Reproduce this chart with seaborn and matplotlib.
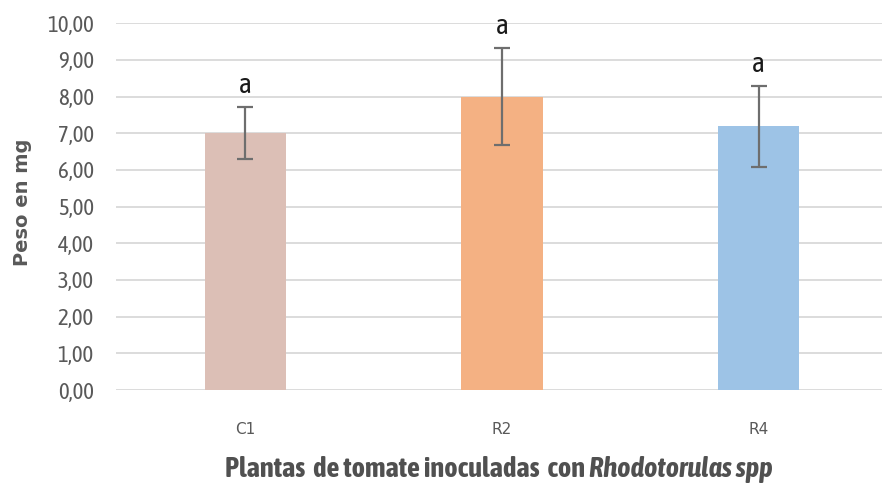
import matplotlib
matplotlib.use("Agg")
import matplotlib.pyplot as plt
from matplotlib import font_manager
import seaborn as sns
import pandas as pd

# Mean fresh weight (mg) per treatment, with standard deviation
categories = ["C1", "R2", "R4"]
weights = [7.00, 7.99, 7.19]
std_dev = [0.71, 1.32, 1.10]
letters = ["a", "a", "a"]
bar_colors = ["#DCBFB6", "#F4B183", "#9DC3E6"]
y_ticks = [0, 1, 2, 3, 4, 5, 6, 7, 8, 9, 10]
y_tick_labels = ["0,00", "1,00", "2,00", "3,00", "4,00", "5,00",
                 "6,00", "7,00", "8,00", "9,00", "10,00"]

# pick a condensed sans-serif family that also has bold and italic faces
available = {f.name for f in font_manager.fontManager.ttflist}
font = next((f for f in ["Asap Condensed", "Liberation Sans Narrow",
                         "Archivo Narrow", "DejaVu Sans"] if f in available),
            "DejaVu Sans")

sns.set_theme(style="white")
plt.rcParams["font.family"] = [font, "DejaVu Sans"]

df = pd.DataFrame({"tratamiento": categories, "peso": weights})

fig = plt.figure(figsize=(8.82, 4.83), dpi=100)
ax = fig.add_axes([0.1315, 0.1925, 0.8685, 0.7595])

sns.barplot(data=df, x="tratamiento", y="peso", hue="tratamiento",
            palette=bar_colors, width=0.316, errorbar=None, linewidth=0,
            legend=False, ax=ax, zorder=2, saturation=1)
ax.errorbar(range(len(categories)), weights, yerr=std_dev, fmt="none",
            ecolor="#6E6E6E", elinewidth=1.6, capsize=6, capthick=1.6,
            zorder=3)

for i, (m, s, lab) in enumerate(zip(weights, std_dev, letters)):
    ax.annotate(lab, xy=(i, m + s), xytext=(0, 6), textcoords="offset points",
                ha="center", va="bottom", fontsize=20, color="#1A1A1A")

ax.set_ylim(0, 10)
ax.set_xlim(-0.503, 2.48)
ax.set_yticks(y_ticks)
ax.set_yticklabels(y_tick_labels, fontsize=16.5, color="#595959")
ax.tick_params(axis="y", length=0, pad=16)
ax.tick_params(axis="x", length=0, pad=23)
for lbl in ax.get_xticklabels():
    lbl.set_fontfamily("DejaVu Sans")
    lbl.set_fontsize(11)
    lbl.set_color("#595959")
ax.yaxis.grid(True, color="#DCDCDC", linewidth=1.4, zorder=0)
ax.set_axisbelow(True)
for sp in ax.spines.values():
    sp.set_visible(False)

ax.set_xlabel("")
ax.set_ylabel("")
fig.text(0.026, 0.582, "Peso en mg", rotation=90, ha="center", va="center",
         fontsize=14, fontweight="bold", color="#595959", family="DejaVu Sans")

# axis title: plain part followed by the italic genus name, centred as a whole
W, H = fig.get_size_inches() * fig.dpi
x_center, baseline = 499 / W, 6 / H
t1 = fig.text(0, baseline, "Plantas  de tomate inoculadas  con ", ha="left",
              va="baseline", fontsize=20.5, fontweight="bold", color="#505050")
t2 = fig.text(0, baseline, "Rhodotorulas spp", ha="left", va="baseline",
              fontsize=20.5, fontweight="bold", fontstyle="italic",
              color="#505050")
renderer = fig.canvas.get_renderer()
w1 = t1.get_window_extent(renderer).width / W
w2 = t2.get_window_extent(renderer).width / W
start = x_center - (w1 + w2) / 2
t1.set_x(start)
t2.set_x(start + w1)

fig.savefig("out.png", dpi=100)
